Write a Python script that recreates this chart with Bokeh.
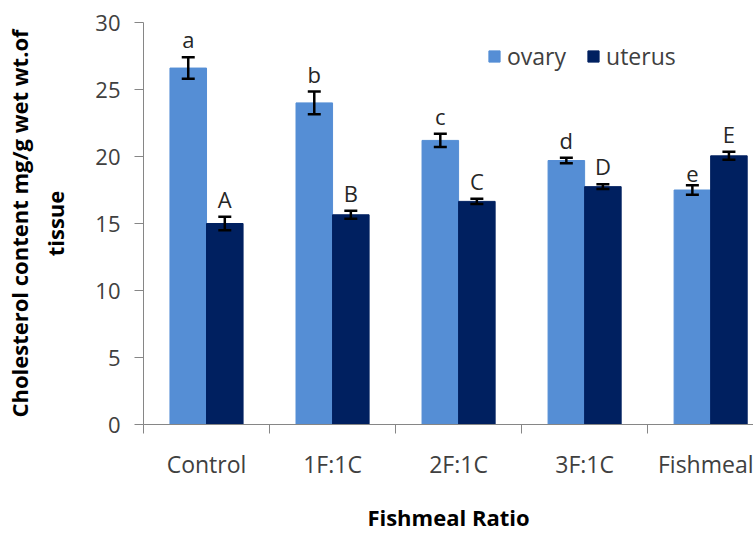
import numpy as np
from bokeh.plotting import figure
from bokeh.models import (ColumnDataSource, Range1d, FixedTicker, Whisker, TeeHead,
                          Legend, LegendItem)
from bokeh.core.properties import value
from bokeh.embed import file_html
from bokeh.resources import INLINE

categories = ["Control", "1F:1C", "2F:1C", "3F:1C", "Fishmeal"]
ovary = [26.6, 24.0, 21.2, 19.7, 17.5]
ovary_err = [0.8, 0.85, 0.5, 0.2, 0.35]
uterus = [15.0, 15.65, 16.65, 17.75, 20.05]
uterus_err = [0.5, 0.3, 0.2, 0.17, 0.3]
ovary_letters = ["a", "b", "c", "d", "e"]
uterus_letters = ["A", "B", "C", "D", "E"]
y_ticks = [0, 5, 10, 15, 20, 25, 30]

FONT = "Open Sans"
OV_COLOR = "#558ED5"
UT_COLOR = "#002060"
BW = 0.29

centers = np.arange(len(categories)) + 0.5
ov_x = centers - BW / 2
ut_x = centers + BW / 2

ov_src = ColumnDataSource(dict(x=ov_x, top=ovary,
                               upper=np.array(ovary) + np.array(ovary_err),
                               lower=np.array(ovary) - np.array(ovary_err),
                               lab=ovary_letters))
ut_src = ColumnDataSource(dict(x=ut_x, top=uterus,
                               upper=np.array(uterus) + np.array(uterus_err),
                               lower=np.array(uterus) - np.array(uterus_err),
                               lab=uterus_letters))

p = figure(width=753, height=534, output_backend="svg", toolbar_location=None,
           x_range=Range1d(0, 4.84), y_range=Range1d(0, 30),
           min_border_left=143, min_border_right=0, min_border_top=22,
           min_border_bottom=100)
p.outline_line_color = None
p.grid.visible = False
p.background_fill_color = "white"
p.border_fill_color = "white"

r1 = p.vbar(x="x", top="top", width=BW, source=ov_src, fill_color=OV_COLOR,
            line_color=OV_COLOR)
r2 = p.vbar(x="x", top="top", width=BW, source=ut_src, fill_color=UT_COLOR,
            line_color=UT_COLOR)

for src in (ov_src, ut_src):
    w = Whisker(base="x", upper="upper", lower="lower", source=src,
                line_color="black", line_width=2.5, level="overlay",
                upper_head=TeeHead(size=13, line_width=2.5, line_color="black"),
                lower_head=TeeHead(size=13, line_width=2.5, line_color="black"))
    p.add_layout(w)
    p.text(x="x", y="upper", text="lab", source=src, text_align="center",
           text_baseline="bottom", y_offset=-3, text_font=value(FONT),
           text_font_size="22px", text_color="#262626")

# axes
p.yaxis.ticker = FixedTicker(ticks=y_ticks)
p.yaxis.axis_line_color = "#868686"
p.yaxis.major_tick_line_color = "#868686"
p.yaxis.major_tick_out = 9
p.yaxis.major_tick_in = 0
p.yaxis.minor_tick_line_color = None
p.yaxis.major_label_text_font = FONT
p.yaxis.major_label_text_font_size = "22px"
p.yaxis.major_label_text_color = "#404040"
p.yaxis.major_label_standoff = 14
p.yaxis.axis_label = "Cholesterol content mg/g wet wt.of\ntissue"
p.yaxis.axis_label_text_font = FONT
p.yaxis.axis_label_text_font_style = "bold"
p.yaxis.axis_label_text_font_size = "22px"
p.yaxis.axis_label_text_color = "black"
p.yaxis.axis_label_standoff = 22

p.xaxis.ticker = FixedTicker(ticks=list(centers), minor_ticks=list(range(len(categories) + 1)))
p.xaxis.major_label_overrides = {float(c): cat for c, cat in zip(centers, categories)}
p.xaxis.axis_line_color = "#868686"
p.xaxis.major_tick_line_color = None
p.xaxis.major_tick_out = 0
p.xaxis.major_tick_in = 0
p.xaxis.minor_tick_line_color = "#868686"
p.xaxis.minor_tick_out = 9
p.xaxis.minor_tick_in = 0
p.xaxis.major_label_text_font = FONT
p.xaxis.major_label_text_font_size = "23px"
p.xaxis.major_label_text_color = "#404040"
p.xaxis.major_label_standoff = 14
p.xaxis.axis_label = "Fishmeal Ratio"
p.xaxis.axis_label_text_font = FONT
p.xaxis.axis_label_text_font_style = "bold"
p.xaxis.axis_label_text_font_size = "22px"
p.xaxis.axis_label_text_color = "black"
p.xaxis.axis_label_standoff = 19

legend = Legend(items=[LegendItem(label="ovary", renderers=[r1]),
                       LegendItem(label="uterus", renderers=[r2])],
                orientation="horizontal", location=(344, 352))
legend.background_fill_alpha = 0
legend.border_line_alpha = 0
legend.padding = 0
legend.margin = 0
legend.spacing = 20
legend.glyph_width = 14
legend.glyph_height = 14
legend.label_standoff = 6
legend.label_text_font = FONT
legend.label_text_font_size = "23px"
legend.label_text_color = "#404040"
p.add_layout(legend, "center")

open("out.html", "w").write(file_html(p, INLINE))
